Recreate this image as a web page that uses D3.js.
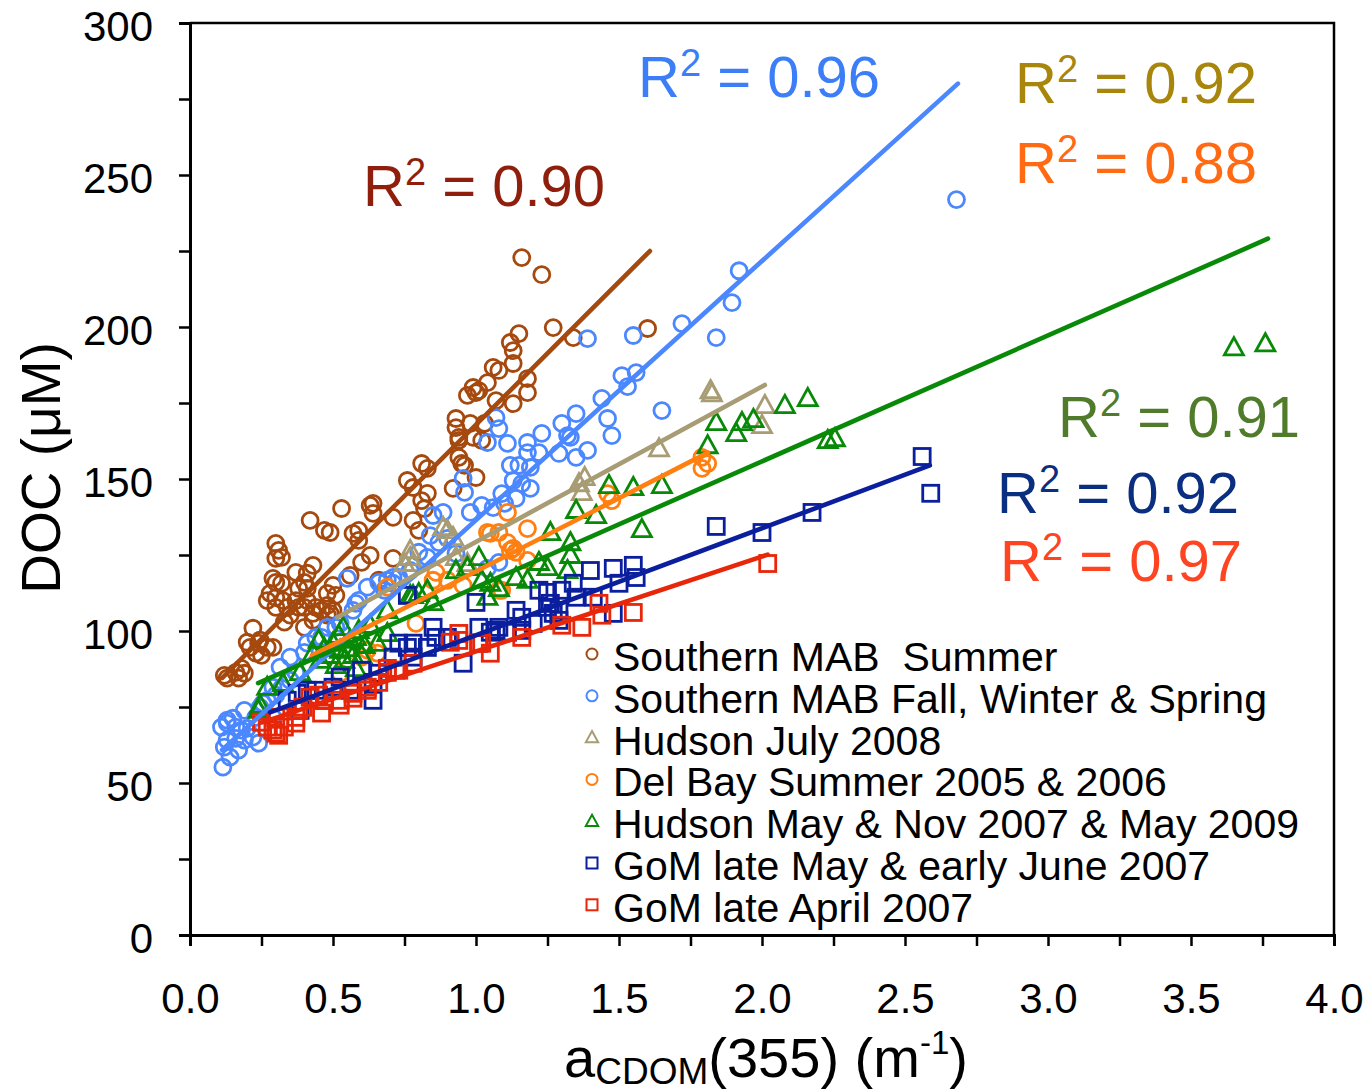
<!DOCTYPE html>
<html><head><meta charset="utf-8">
<script src="https://cdn.jsdelivr.net/npm/d3@7"></script>
<style>
html,body{margin:0;padding:0;background:#fff;}
text{font-family:"Liberation Sans",Arial,sans-serif;}
</style></head>
<body>
<svg id="chart" width="1366" height="1092"></svg>
<script>
// ---- data (x = aCDOM(355) m^-1, y = DOC µM) ----
const seriesNames = ["Southern MAB  Summer","Southern MAB Fall, Winter & Spring","Hudson July 2008","Del Bay Summer 2005 & 2006","Hudson May & Nov 2007 & May 2009","GoM late May & early June 2007","GoM late April 2007"];
const seriesColors = ["#A5490F","#4B88FF","#A89C74","#FF7F10","#088A08","#0B1F9E","#E8260A"];
const seriesShapes = ["circle","circle","triangle","circle","triangle","square","square"];

const mabSummer = [[0.12,85.4],[0.13,84.5],[0.16,86.4],[0.17,84.5],[0.18,87.7],[0.19,86.1],[0.20,96.3],[0.21,94.6],[0.22,100.9],[0.23,92.7],[0.24,96],[0.245,97],[0.25,92],[0.27,94.6],[0.29,94.6],[0.27,110],[0.28,112.4],[0.29,117.3],[0.30,116],[0.30,111],[0.30,107.8],[0.30,123.9],[0.30,128.8],[0.31,126.5],[0.32,124.2],[0.32,115.7],[0.325,110],[0.33,102.9],[0.34,107.8],[0.35,105.2],[0.37,119.3],[0.37,110],[0.38,114],[0.38,107.8],[0.40,116],[0.40,107.8],[0.40,101.2],[0.41,119],[0.41,114],[0.41,110],[0.42,136.4],[0.43,121.6],[0.43,105.8],[0.43,103.5],[0.44,107.8],[0.46,106.8],[0.47,133.1],[0.48,108.4],[0.48,105.2],[0.48,112.4],[0.49,132.4],[0.49,105.8],[0.50,115],[0.50,106.8],[0.51,111.7],[0.53,140.3],[0.57,132.1],[0.59,129.8],[0.59,133.1],[0.63,141.3],[0.64,138.7],[0.63,124.9],[0.64,142],[0.60,122.6],[0.66,116.7],[0.56,118.3],[0.71,137.4],[0.71,123.9],[0.76,149.5],[0.78,147.2],[0.78,136.4],[0.80,133.1],[0.81,155.1],[0.83,153.5],[0.83,145.3],[0.81,142.9],[0.82,140.3],[0.92,146.9],[0.93,166.9],[0.93,169.9],[0.94,157.1],[0.94,163.7],[0.94,162.7],[0.95,155.1],[0.96,154.5],[0.97,177.5],[0.98,168.3],[0.99,180.1],[0.99,163.7],[1.00,178.4],[1.00,150.5],[1.01,179.1],[1.02,162.7],[1.03,168.3],[1.04,181.7],[1.06,186.7],[1.07,175.8],[1.08,185.7],[1.12,194.9],[1.13,192.2],[1.13,174.8],[1.13,188],[1.15,197.8],[1.18,183],[1.18,178.4],[1.16,222.8],[1.23,217.2],[1.27,199.8],[1.34,196.5],[1.60,199.5]];

const mabOther = [[0.115,55.2],[0.14,58.5],[0.17,60.8],[0.12,61.8],[0.13,64.1],[0.16,64.7],[0.19,64.1],[0.24,63.1],[0.22,65.1],[0.11,68.4],[0.13,69.7],[0.16,68.4],[0.18,67.4],[0.20,68],[0.13,70.7],[0.15,71.3],[0.19,73.9],[0.23,71.6],[0.245,74.9],[0.29,71.6],[0.255,76.2],[0.27,77.2],[0.30,78.9],[0.32,81.2],[0.29,81.5],[0.35,83.8],[0.315,88.1],[0.37,86.4],[0.35,91.4],[0.40,93],[0.41,96],[0.44,97.9],[0.46,97.9],[0.48,101.2],[0.51,101.2],[0.525,102.5],[0.57,106.8],[0.59,110.1],[0.58,109.1],[0.62,114.4],[0.55,117.3],[0.66,116],[0.69,116.7],[0.71,117.6],[0.68,113.4],[0.71,115.7],[0.73,117.6],[0.77,119.9],[0.80,125.9],[0.83,124.2],[0.84,131.4],[0.87,129.1],[0.90,130.5],[0.93,125.5],[0.85,138],[0.885,139],[0.98,139],[1.02,141.3],[1.06,140.6],[1.10,142],[0.955,150.2],[0.96,145.6],[1.13,149.5],[1.16,148.5],[1.19,146.9],[1.09,145.2],[1.14,143.6],[1.12,154.5],[1.15,154.5],[1.19,153.8],[1.22,158.7],[1.18,158.7],[1.07,170.2],[1.08,166.6],[1.04,162],[1.11,161.7],[1.18,162],[1.23,165],[1.30,168.3],[1.35,171.5],[1.33,163.7],[1.29,158.4],[1.32,164.3],[1.35,157.1],[1.39,159.4],[1.475,164.3],[1.46,169.9],[1.44,176.5],[1.53,180.4],[1.51,184],[1.56,185],[1.65,172.5],[1.39,196.2],[1.55,197.2],[1.72,201.1],[1.84,196.5],[1.895,208],[1.92,218.5],[2.68,241.9],[1.08,122.6],[1.04,120.6]];

const hudsonJuly08 = [[0.75,122.2],[0.77,126.5],[0.77,124.2],[0.78,122.2],[0.885,134.1],[0.90,133.1],[0.92,130.8],[0.93,124.2],[0.97,122.2],[1.36,148.5],[1.38,150.5],[1.37,145.6],[1.64,160],[1.82,179.1],[1.825,178.1],[2.01,174.2],[2.00,167.6]];

const delBay = [[0.525,86.1],[0.60,91.4],[0.62,93.7],[0.655,92.7],[0.69,114.4],[0.79,102.5],[0.85,116.7],[0.86,119.3],[0.90,116.7],[0.955,115],[1.04,132.4],[1.05,132.1],[1.08,132.4],[1.08,113.4],[1.09,113.4],[1.11,139],[1.11,129.1],[1.12,126.5],[1.13,127.2],[1.14,125.9],[1.18,123.2],[1.18,133.7],[1.46,145.2],[1.475,142.9],[1.79,157.1],[1.81,155.1],[1.79,153.5]];

const hudsonMayNov = [[0.245,75.6],[0.24,74],[0.27,81.5],[0.325,82.8],[0.385,86.4],[0.43,92.7],[0.455,90.4],[0.47,94.3],[0.49,92],[0.50,96],[0.52,98.6],[0.525,93.7],[0.535,101.2],[0.54,90.4],[0.56,97],[0.57,92],[0.58,87.7],[0.59,100.2],[0.61,95.3],[0.45,97],[0.51,88.7],[0.55,94.3],[0.58,97.9],[0.60,92],[0.63,101.9],[0.655,96],[0.69,106.8],[0.69,99.2],[0.77,111.7],[0.78,111.7],[0.80,112.4],[0.83,113.4],[0.85,109.4],[0.93,119.9],[0.97,120.9],[1.01,124.2],[1.02,116.7],[1.04,111.1],[1.05,115.7],[1.08,114],[1.14,117.6],[1.18,116.7],[1.22,122.6],[1.25,120.9],[1.26,132.4],[1.33,129.1],[1.33,124.9],[1.32,119.9],[1.35,139.7],[1.42,138],[1.465,147.9],[1.55,147.2],[1.58,133.4],[1.65,147.9],[1.81,161],[1.84,168.6],[1.91,165],[1.93,168.6],[1.97,169.6],[2.08,174.2],[2.16,176.5],[2.23,162.7],[2.255,163.3],[3.65,193.2],[3.76,194.5]];

const gomMayJune = [[0.34,77.2],[0.375,79.5],[0.385,73.9],[0.41,80.5],[0.44,80.5],[0.47,77.2],[0.50,81.5],[0.525,84.8],[0.56,80.5],[0.60,87.1],[0.64,83.1],[0.64,77.2],[0.66,86.1],[0.71,91.4],[0.73,96],[0.76,94.6],[0.78,91.4],[0.78,96],[0.83,94.6],[0.85,101.2],[0.86,97.9],[0.90,97.9],[0.955,89.4],[1.01,96],[1.01,101.2],[1.05,99.6],[1.07,100.2],[1.08,101.2],[1.11,99.6],[1.16,100.2],[1.20,102.5],[1.14,106.8],[1.16,104.5],[1.27,105.8],[1.29,103.5],[1.26,109.1],[1.25,107.8],[1.29,106.8],[1.22,113.4],[1.25,112.7],[1.30,113.4],[1.34,115.7],[1.35,111.1],[1.40,119.9],[1.41,111.1],[1.48,120.6],[1.55,121.6],[1.50,115.7],[1.56,117.6],[1.48,105.8],[0.76,111.7],[1.00,109.4],[1.84,134.4],[2.00,132.4],[2.175,139],[2.56,157.4],[2.59,145.3]];

const gomApril = [[0.25,70],[0.27,68.4],[0.29,67.4],[0.30,71.6],[0.30,66.4],[0.31,65.7],[0.33,68.4],[0.37,69.7],[0.37,71.6],[0.38,73.9],[0.395,74.9],[0.42,78.2],[0.45,78.9],[0.46,73],[0.47,77.2],[0.50,80.5],[0.525,77.2],[0.525,75.6],[0.57,77.9],[0.57,79.5],[0.62,81.5],[0.62,80.5],[0.66,83.1],[0.69,87.7],[0.69,86.4],[0.72,87.1],[0.73,87.1],[0.78,89.4],[0.91,96.3],[0.94,99.2],[0.94,96.9],[1.01,96],[1.02,96],[1.05,92.7],[1.16,97.9],[1.30,101.9],[1.37,101.2],[1.43,109.1],[1.44,105.2],[1.55,106.1],[2.02,122.2]];

const seriesData = [mabSummer, mabOther, hudsonJuly08, delBay, hudsonMayNov, gomMayJune, gomApril];

// linear fits: y = slope*x + intercept over [xmin, xmax]
const fitSlope     = [93.9, 85.2, 51.1, 48.2, 41.4, 35.2, 31.2];
const fitIntercept = [74.0, 51.3, 78.2, 71.4, 73.0, 63.4, 62.1];
const fitXmin      = [0.112, 0.112, 0.514, 0.427, 0.238, 0.28, 0.252];
const fitXmax      = [1.608, 2.685, 2.01, 1.811, 3.769, 2.587, 2.02];

const r2Values = ["0.90","0.96","0.92","0.88","0.91","0.92","0.97"];
const r2Colors = ["#8F1F0C","#3C7EF8","#A8860C","#FF6A12","#4F7B2B","#0B2F80","#FF4422"];

const xTicks = [0,0.25,0.5,0.75,1,1.25,1.5,1.75,2,2.25,2.5,2.75,3,3.25,3.5,3.75,4];
const yTicks = [0,25,50,75,100,125,150,175,200,225,250,275,300];

// ---- layout ----
const svg = d3.select("#chart");
const L = 190, R = 1334, T = 23, B = 935;
const x = d3.scaleLinear().domain([0,4]).range([L,R]);
const y = d3.scaleLinear().domain([0,300]).range([B,T]);

// frame (top & right)
svg.append("path").attr("d",`M${L},${T}H${R}V${B}`).attr("fill","none").attr("stroke","#000").attr("stroke-width",2.5);

// axes
const yAxis = d3.axisLeft(y).tickValues(yTicks).tickSize(11).tickPadding(26)
  .tickFormat(d => d % 50 === 0 ? d : "");
const gy = svg.append("g").attr("transform",`translate(${L},0)`).call(yAxis);
const xAxis = d3.axisBottom(x).tickValues(xTicks).tickSize(11).tickPadding(37)
  .tickFormat(d => (d*2) % 1 === 0 ? d3.format(".1f")(d) : "");
const gx = svg.append("g").attr("transform",`translate(0,${B})`).call(xAxis);
[gx,gy].forEach(g=>{
  g.select(".domain").attr("stroke","#000").attr("stroke-width",3);
  g.selectAll(".tick line").attr("stroke","#000").attr("stroke-width",2.5);
  g.selectAll("text").attr("font-size",42).attr("fill","#000").attr("font-family","'Liberation Sans',Arial,sans-serif");
});
gy.selectAll("text").attr("dy","0.41em");

// markers
const tri = s => `M0,${-s}L${s*0.95},${s*0.72}L${-s*0.95},${s*0.72}Z`;
function drawMarker(g, shape, color, big){
  if(shape==="circle"){
    g.append("circle").attr("r",big?8:5.5).attr("fill","none").attr("stroke",color).attr("stroke-width",big?2.8:2);
  } else if(shape==="triangle"){
    g.append("path").attr("d",tri(big?10:6.5)).attr("fill","none").attr("stroke",color).attr("stroke-width",big?2.8:2).attr("stroke-linejoin","miter");
  } else {
    const s = big?16:11;
    g.append("rect").attr("x",-s/2).attr("y",-s/2).attr("width",s).attr("height",s).attr("fill","none").attr("stroke",color).attr("stroke-width",big?2.8:2);
  }
}
const plot = svg.append("g");
seriesData.forEach((data,i)=>{
  const sg = plot.append("g");
  data.forEach(d=>{
    const g = sg.append("g").attr("transform",`translate(${x(d[0])},${y(d[1])})`);
    drawMarker(g, seriesShapes[i], seriesColors[i], true);
  });
});
// fit lines
const lineGen = d3.line().x(d=>x(d[0])).y(d=>y(d[1]));
seriesData.forEach((data,i)=>{
  const pts = [fitXmin[i], fitXmax[i]].map(v=>[v, fitSlope[i]*v + fitIntercept[i]]);
  plot.append("path").attr("d",lineGen(pts)).attr("fill","none").attr("stroke",seriesColors[i]).attr("stroke-width",4.6).attr("stroke-linecap","round");
});

// R² labels
const r2Pos = [[363,206],[638,97],[1015,103],[1015,183],[1058,437],[997,513],[1000,581]];
r2Values.forEach((v,i)=>{
  const t = svg.append("text").attr("x",r2Pos[i][0]).attr("y",r2Pos[i][1]).attr("font-size",58).attr("fill",r2Colors[i]);
  t.append("tspan").text("R");
  t.append("tspan").attr("font-size",38).attr("dy",-21).text("2");
  t.append("tspan").attr("dy",21).text(" = " + v);
});

// legend
const leg = svg.append("g");
seriesNames.forEach((n,i)=>{
  const yy = 671 + i*41.8;
  const g = leg.append("g").attr("transform",`translate(592,${yy-17})`);
  drawMarker(g, seriesShapes[i], seriesColors[i], false);
  leg.append("text").attr("x",613).attr("y",yy).attr("font-size",41).attr("fill","#000")
    .style("white-space","pre").attr("xml:space","preserve").text(n);
});

// axis titles
svg.append("text").attr("transform","translate(60,468) rotate(-90)").attr("text-anchor","middle")
  .attr("font-size",55).attr("fill","#000").text("DOC (μM)");
const xt = svg.append("text").attr("x",766).attr("y",1077).attr("text-anchor","middle").attr("font-size",56).attr("fill","#000");
xt.append("tspan").text("a");
xt.append("tspan").attr("font-size",37).attr("dy",7).text("CDOM");
xt.append("tspan").attr("dy",-7).text("(355) (m");
xt.append("tspan").attr("font-size",33).attr("dy",-23).text("-1");
xt.append("tspan").attr("dy",23).text(")");
</script>
</body></html>
